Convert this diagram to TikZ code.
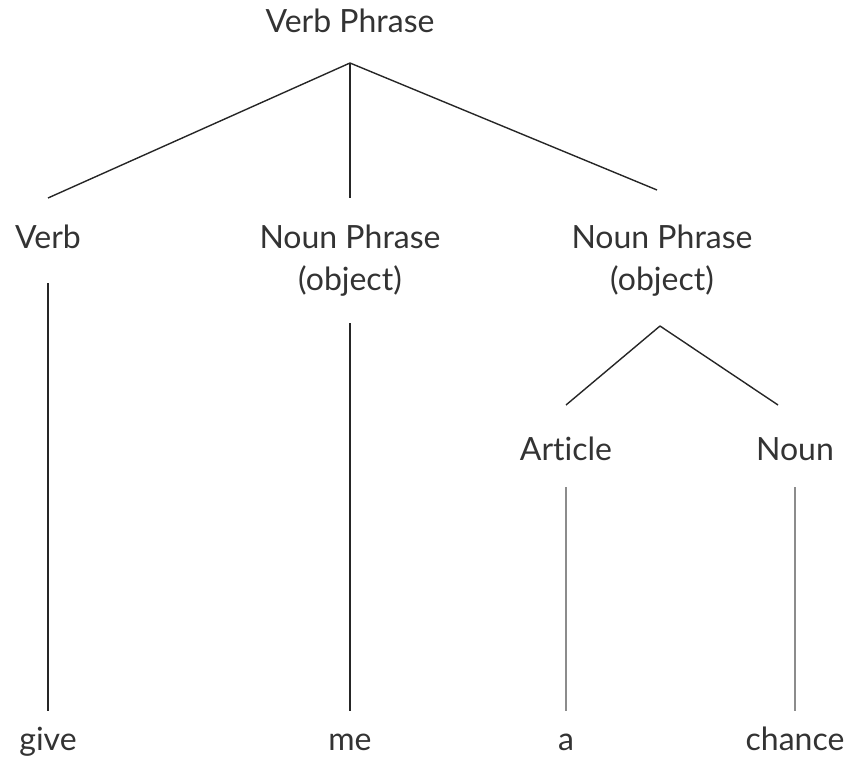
\documentclass[tikz,border=0pt]{standalone}
\usepackage{fontspec}
\setmainfont{Lato}[Ligatures=NoCommon]
\usepackage{tikz}
\definecolor{inkgray}{HTML}{333333}

\begin{document}
\begin{tikzpicture}[x=1pt,y=-1pt]
	\tikzstyle{every node}+=[inner sep=0pt, anchor=base, text=inkgray, font=\fontsize{32}{42}\selectfont, align=center]
	\tikzstyle{branch}=[line width=1.4pt, black!85]
	\tikzstyle{lightbranch}=[line width=1.4pt, black!45]
	\useasboundingbox (0,0) rectangle (849,757);
	% labels
	\node (vp) at (350,33) {Verb Phrase};
	\node (verb) at (48,248) {Verb};
	\node (np1) at (350,290) {Noun Phrase\\(object)};
	\node (np2) at (662,290) {Noun Phrase\\(object)};
	\node (art) at (566,460) {Article};
	\node (noun) at (795,460) {Noun};
	\node (give) at (48,750) {give};
	\node (me) at (350,750) {me};
	\node (a) at (566,750) {a};
	\node (chance) at (795,750) {chance};
	% branches
	\draw [branch] ([yshift=-30pt]vp.base) -- ([yshift=50pt]verb.base);
	\draw [branch] ([yshift=-30pt]vp.base) -- ([yshift=92pt]np1.base);
	\draw [branch] ([yshift=-30pt]vp.base) -- ([xshift=-5pt,yshift=100pt]np2.base);
	\draw [branch] ([yshift=-35pt]verb.base) -- ([yshift=39pt]give.base);
	\draw [branch] ([yshift=-33pt]np1.base) -- ([yshift=39pt]me.base);
	\draw [branch] ([xshift=-2pt,yshift=-36pt]np2.base) -- ([yshift=55pt]art.base);
	\draw [branch] ([xshift=-2pt,yshift=-36pt]np2.base) -- ([xshift=-17pt,yshift=55pt]noun.base);
	\draw [lightbranch] ([yshift=-27pt]art.base) -- ([yshift=39pt]a.base);
	\draw [lightbranch] ([yshift=-27pt]noun.base) -- ([yshift=39pt]chance.base);
\end{tikzpicture}
\end{document}
